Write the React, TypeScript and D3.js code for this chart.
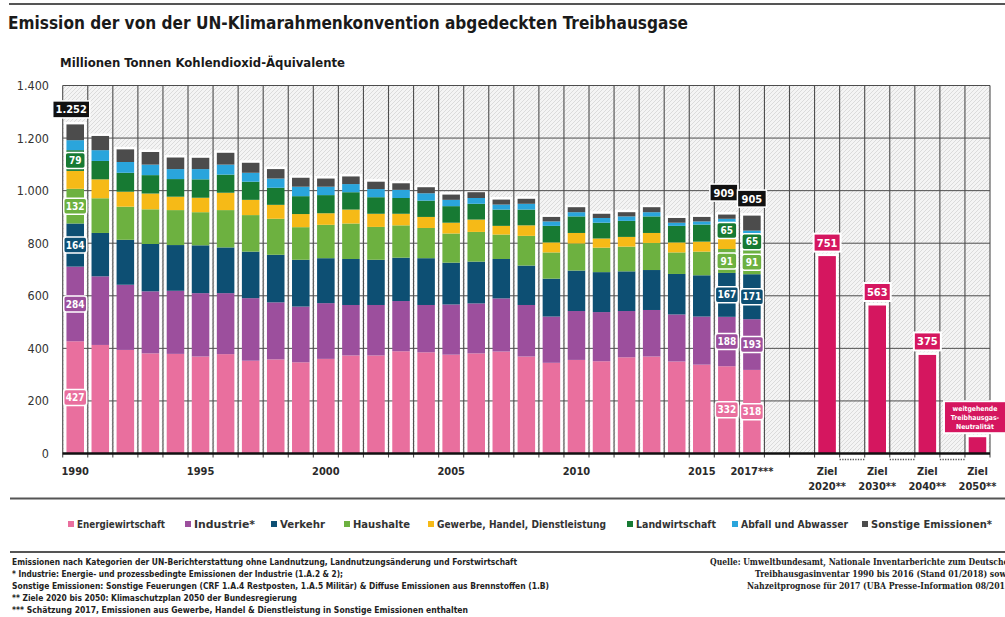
import React from "react";
import * as d3 from "d3";

// ---------- DATA ----------
const years = [
  "1990","1991","1992","1993","1994","1995","1996","1997","1998","1999",
  "2000","2001","2002","2003","2004","2005","2006","2007","2008","2009",
  "2010","2011","2012","2013","2014","2015","2016","2017",
];
const energiewirtschaft = [427,413,394,381,379,369,378,353,358,347,360,373,373,389,385,376,381,388,369,345,356,351,366,369,350,338,332,318];
const industrie = [284,261,248,236,240,241,232,238,217,212,212,192,192,191,180,191,190,202,196,176,186,187,176,177,179,183,188,193];
const verkehr = [164,165,171,180,174,182,174,177,181,178,171,175,172,165,178,159,159,150,150,144,154,152,151,152,154,157,167,171];
const haushalte = [132,132,126,132,133,126,142,139,137,124,127,135,125,123,115,111,113,93,113,100,103,93,94,103,82,90,91,91];
const gewerbe = [68,72,57,60,51,55,66,58,53,50,44,53,50,44,42,41,47,33,40,38,40,35,37,38,38,38,38,0];
const landwirtschaft = [79,70,72,70,67,70,69,69,65,68,69,66,63,60,62,63,60,62,60,63,63,60,61,63,63,65,65,65];
const abfall = [38,41,41,40,38,39,38,34,35,36,32,31,31,31,28,24,22,19,22,17,16,18,17,16,12,12,12,10];
const sonstige = [60,54,48,48,44,43,45,38,36,34,31,29,28,25,23,20,22,19,19,17,19,16,16,19,18,17,16,57];

const seriesNames = [
  "Energiewirtschaft","Industrie*","Verkehr","Haushalte",
  "Gewerbe, Handel, Dienstleistung","Landwirtschaft","Abfall und Abwasser","Sonstige Emissionen*",
];
const seriesKeys = ["energie","industrie","verkehr","haushalte","gewerbe","landw","abfall","sonstige"];
const seriesColors = ["#e96f9e","#9c4f9d","#0d4f73","#6db140","#f6ba17","#177a33","#2aa5dc","#4c4c4c"];

const extraSlots = ["leer a","leer b","Ziel 2020","p1","Ziel 2030","p2","Ziel 2040","p3","Ziel 2050"];
const dottedSlots = ["p1","p2","p3"];
const targetSlots = ["Ziel 2020","Ziel 2030","Ziel 2040","Ziel 2050"];
const targetValues = [751, 563, 375, 62];
const targetTickLines = ["2020**","2030**","2040**","2050**"];
const yearTicks = ["1990","1995","2000","2005","2010","2015","2017"];
const yearTickText = ["1990","1995","2000","2005","2010","2015","2017***"];
const yTicks = [0, 200, 400, 600, 800, 1000, 1200, 1400];
const labeledYears = ["1990","2016","2017"];
const labeledKeys = ["energie","industrie","verkehr","haushalte","landw"];
const neutralText = ["weitgehende","Treibhausgas-","Neutralität"];

const footLeft = [
  "Emissionen nach Kategorien der UN-Berichterstattung ohne Landnutzung, Landnutzungsänderung und Forstwirtschaft",
  "* Industrie: Energie- und prozessbedingte Emissionen der Industrie (1.A.2 & 2);",
  "Sonstige Emissionen: Sonstige Feuerungen (CRF 1.A.4 Restposten, 1.A.5 Militär) & Diffuse Emissionen aus Brennstoffen (1.B)",
  "** Ziele 2020 bis 2050: Klimaschutzplan 2050 der Bundesregierung",
  "*** Schätzung 2017, Emissionen aus Gewerbe, Handel & Dienstleistung in Sonstige Emissionen enthalten",
];
const footRight = [
  "Quelle: Umweltbundesamt, Nationale Inventarberichte zum Deutschen",
  "Treibhausgasinventar 1990 bis 2016 (Stand 01/2018) sowie",
  "Nahzeitprognose für 2017 (UBA Presse-Information 08/2018)",
];

// ---------- STYLE / LAYOUT ----------
const FONT = "'DejaVu Sans Condensed', 'DejaVu Sans', sans-serif";
const SERIF = "'DejaVu Serif Condensed', 'DejaVu Serif', 'Liberation Serif', serif";
const TARGET = "#d5165f";
const GRID = "#4d4d4d";
const footLeftW = [505, 331, 537, 285, 456];
const footRightW = [304, 259, 267];
const footY = [565, 577, 589, 601, 612.5];
const legendX = [68, 185, 271, 344, 428, 627, 732, 862];
const legendTextW = [88, 61, 45, 57, 169, 80, 107, 121];
const totalOffsets: Record<string, [number, number, number]> = {
  "1990": [-4, -15, 37],
  "2016": [-3, -22, 28],
  "2017": [0, -17, 29],
};

export default function App() {
  const W = 1005, H = 617;
  const slots = [...years, ...extraSlots];
  const x = d3.scaleBand<string>().domain(slots).range([62.7, 990]).padding(0);
  const y = d3.scaleLinear().domain([0, 1400]).range([453.5, 85.5]);
  const bw = x.bandwidth();
  const barW = bw * 0.7;
  const bx = (s: string) => (x(s) as number) + (bw - barW) / 2;
  const cx = (s: string) => (x(s) as number) + bw / 2;

  const arrays = [energiewirtschaft, industrie, verkehr, haushalte, gewerbe, landwirtschaft, abfall, sonstige];
  const rows = years.map((yr, i) => {
    const r: any = { year: yr };
    seriesKeys.forEach((k, j) => (r[k] = arrays[j][i]));
    return r;
  });
  const stacked = d3.stack<any>().keys(seriesKeys)(rows);
  const totals = rows.map((r) => d3.sum(seriesKeys, (k) => r[k]));

  const boundaries = [...slots.map((s) => x(s) as number), 990];

  return (
    <svg width={W} height={H} viewBox={`0 0 ${W} ${H}`}
      style={{ position: "absolute", left: 0, top: 0, display: "block", background: "#fff" }}>
      <defs>
        <pattern id="hatch" patternUnits="userSpaceOnUse" width="4" height="4">
          <rect width="4" height="4" fill="#f4f4f4" />
          <path d="M-1,1 L1,-1 M0,4 L4,0 M3,5 L5,3" stroke="#d4d4d4" strokeWidth="0.8" />
        </pattern>
      </defs>

      {/* header */}
      <line x1={9} x2={W} y1={4} y2={4} stroke="#555" strokeWidth={2} />
      <text x={8} y={28.5} fontFamily={FONT} fontWeight="bold" fontSize={18} fill="#1a1a1a"
        textLength={680} lengthAdjust="spacingAndGlyphs">
        Emission der von der UN-Klimarahmenkonvention abgedeckten Treibhausgase
      </text>
      <text x={60} y={66.5} fontFamily={FONT} fontWeight="bold" fontSize={12.5} fill="#1a1a1a"
        textLength={285} lengthAdjust="spacingAndGlyphs">
        Millionen Tonnen Kohlendioxid-Äquivalente
      </text>

      {/* plot background */}
      <rect x={62.7} y={y(1400)} width={990 - 62.7} height={y(0) - y(1400)} fill="url(#hatch)" />

      {/* white halos behind bars */}
      {years.map((yr, i) => (
        <rect key={"h" + yr} x={bx(yr) - 2.5} y={y(totals[i]) - 2.5} width={barW + 5}
          height={y(0) - y(totals[i]) + 2.5} fill="#fff" />
      ))}
      {targetSlots.map((s, i) => (
        <rect key={"th" + s} x={bx(s) - 2.5} y={y(targetValues[i]) - 2.5} width={barW + 5}
          height={y(0) - y(targetValues[i]) + 2.5} fill="#fff" />
      ))}

      {/* grid */}
      {yTicks.map((t) => (
        <line key={"gy" + t} x1={62.7} x2={990} y1={y(t)} y2={y(t)} stroke={GRID} strokeWidth={1} />
      ))}
      {boundaries.map((b, i) => (
        <line key={"gx" + i} x1={b} x2={b} y1={y(1400)} y2={y(0) + 4} stroke={GRID} strokeWidth={1.1} />
      ))}

      {/* stacked bars */}
      {stacked.map((layer, li) => (
        <g key={layer.key} fill={seriesColors[li]}>
          {layer.map((d, i) =>
            d[1] - d[0] > 0 ? (
              <rect key={years[i]} x={bx(years[i])} y={y(d[1])} width={barW}
                height={y(d[0]) - y(d[1])} />
            ) : null
          )}
        </g>
      ))}

      {/* target bars */}
      {targetSlots.map((s, i) => (
        <rect key={"t" + s} x={bx(s)} y={y(targetValues[i])} width={barW}
          height={y(0) - y(targetValues[i])} fill={TARGET} />
      ))}

      {/* axis */}
      <line x1={62.7} x2={990} y1={y(0)} y2={y(0)} stroke="#111" strokeWidth={2.5} />
      {dottedSlots.map((s) => (
        <line key={s} x1={x(s) as number} x2={(x(s) as number) + bw} y1={459.5} y2={459.5}
          stroke="#555" strokeWidth={1.5} strokeDasharray="1.3 1.3" />
      ))}

      {/* y tick labels */}
      {yTicks.map((t) => (
        <text key={"yl" + t} x={49} y={y(t) + 4.5} textAnchor="end" fontFamily={FONT}
          fontSize={12.5} fill="#333">
          {d3.format(",")(t).replace(",", ".")}
        </text>
      ))}

      {/* x tick labels */}
      {yearTicks.map((yr, i) => (
        <text key={"xl" + yr} x={cx(yr)} y={474.5} textAnchor="middle" fontFamily={FONT}
          fontWeight="bold" fontSize={11} fill="#2a2a2a">
          {yearTickText[i]}
        </text>
      ))}
      {targetSlots.map((s, i) => (
        <g key={"tl" + s} fontFamily={FONT} fontWeight="bold" fontSize={11} fill="#2a2a2a" textAnchor="middle">
          <text x={cx(s)} y={474.5}>Ziel</text>
          <text x={cx(s)} y={489.5}>{targetTickLines[i]}</text>
        </g>
      ))}

      {/* segment value labels */}
      {labeledYears.map((yr) => {
        const i = years.indexOf(yr);
        return labeledKeys.map((k) => {
          const li = seriesKeys.indexOf(k);
          const d = stacked[li][i];
          const v = d[1] - d[0];
          const my = y((d[0] + d[1]) / 2);
          const w = v >= 100 ? 23 : 20;
          return (
            <g key={yr + k}>
              <rect x={cx(yr) - w / 2} y={my - 8} width={w} height={16} rx={2.5}
                fill={seriesColors[li]} stroke="#fff" strokeWidth={1.5} />
              <text x={cx(yr)} y={my + 3.6} textAnchor="middle" fontFamily={FONT}
                fontWeight="bold" fontSize={10} fill="#fff">
                {v}
              </text>
            </g>
          );
        });
      })}

      {/* totals */}
      {labeledYears.map((yr) => {
        const i = years.indexOf(yr);
        const [dx, dy, w] = totalOffsets[yr];
        const cyy = y(totals[i]) + dy;
        return (
          <g key={"tot" + yr}>
            <rect x={cx(yr) + dx - w / 2} y={cyy - 8.5} width={w} height={17} fill="#111"
              stroke="#fff" strokeWidth={1.5} />
            <text x={cx(yr) + dx} y={cyy + 4} textAnchor="middle" fontFamily={FONT}
              fontWeight="bold" fontSize={11} fill="#fff">
              {d3.format(",")(totals[i]).replace(",", ".")}
            </text>
          </g>
        );
      })}

      {/* target value labels */}
      {targetSlots.slice(0, 3).map((s, i) => {
        const cyy = y(targetValues[i]) - 13.5;
        return (
          <g key={"tv" + s}>
            <rect x={cx(s) - 13.5} y={cyy - 9} width={27} height={18} fill={TARGET}
              stroke="#fff" strokeWidth={2} />
            <text x={cx(s)} y={cyy + 4} textAnchor="middle" fontFamily={FONT}
              fontWeight="bold" fontSize={11} fill="#fff">
              {targetValues[i]}
            </text>
          </g>
        );
      })}
      {(() => {
        const s = targetSlots[3];
        const cyy = y(targetValues[3]) - 20;
        const ccx = cx(s) - 2.5;
        return (
          <g>
            <rect x={ccx - 31} y={cyy - 16} width={64} height={32} fill={TARGET}
              stroke="#fff" strokeWidth={2} />
            {neutralText.map((t, k) => (
              <text key={t} x={ccx} y={cyy - 6.5 + k * 9.3} textAnchor="middle" fontFamily={FONT}
                fontWeight="bold" fontSize={6.8} fill="#fff">
                {t}
              </text>
            ))}
          </g>
        );
      })()}

      {/* legend */}
      <line x1={10} x2={W} y1={498.5} y2={498.5} stroke="#555" strokeWidth={2} />
      {seriesNames.map((n, i) => (
        <g key={n}>
          <rect x={legendX[i]} y={521} width={6} height={6} fill={seriesColors[i]} />
          <text x={legendX[i] + 9} y={528} fontFamily={FONT} fontWeight="bold" fontSize={11}
            fill="#333" textLength={legendTextW[i]} lengthAdjust="spacingAndGlyphs">
            {n}
          </text>
        </g>
      ))}

      {/* footnotes */}
      <line x1={10} x2={W} y1={552} y2={552} stroke="#555" strokeWidth={2} />
      {footLeft.map((t, i) => (
        <text key={"fl" + i} x={12} y={footY[i]} fontFamily={FONT} fontWeight="bold"
          fontSize={8.6} fill="#222" textLength={footLeftW[i]} lengthAdjust="spacingAndGlyphs">
          {t}
        </text>
      ))}
      {footRight.map((t, i) => (
        <text key={"fr" + i} x={1014} y={footY[i]} textAnchor="end" fontFamily={SERIF}
          fontWeight="bold" fontSize={8.8} fill="#222" textLength={footRightW[i]}
          lengthAdjust="spacingAndGlyphs">
          {t}
        </text>
      ))}
    </svg>
  );
}
